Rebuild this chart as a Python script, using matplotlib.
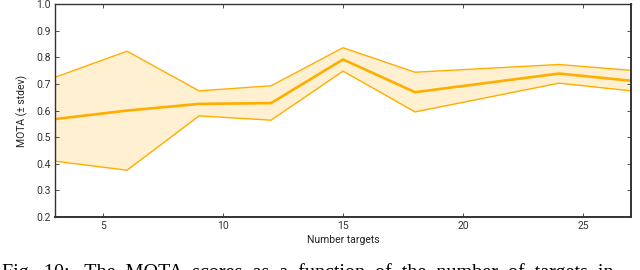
import matplotlib
matplotlib.use("Agg")
import matplotlib.pyplot as plt

# data
n_targets = [3, 6, 9, 12, 15, 18, 24, 27]
mota_mean = [0.568, 0.600, 0.625, 0.628, 0.792, 0.669, 0.739, 0.712]
mota_upper = [0.725, 0.823, 0.674, 0.693, 0.836, 0.744, 0.773, 0.751]
mota_lower = [0.410, 0.376, 0.580, 0.564, 0.748, 0.595, 0.703, 0.674]
x_ticks = [5, 10, 15, 20, 25]
y_ticks = [0.2, 0.3, 0.4, 0.5, 0.6, 0.7, 0.8, 0.9, 1.0]
caption = "Fig. 10:  The MOTA scores as a function of the number of targets in"

line_col = "#FFAE00"
fill_col = "#FFF0D2"

plt.rcParams["font.family"] = ["Roboto", "DejaVu Sans"]

fig = plt.figure(figsize=(6.4, 2.7), dpi=100)
ax = fig.add_axes([0.086, 0.196, 0.9, 0.789])

ax.fill_between(n_targets, mota_lower, mota_upper, color=fill_col, lw=0)
ax.plot(n_targets, mota_upper, color=line_col, lw=1)
ax.plot(n_targets, mota_lower, color=line_col, lw=1)
ax.plot(n_targets, mota_mean, color=line_col, lw=1.9)

ax.set_xlim(3, 27)
ax.set_ylim(0.2, 1.0)
ax.set_xticks(x_ticks)
ax.set_yticks(y_ticks)
ax.set_yticklabels(["%.1f" % v for v in y_ticks])
ax.tick_params(direction="in", length=3, width=0.6, labelsize=7.5,
               colors="#333333", top=True, right=True, pad=3)
for s in ax.spines.values():
    s.set_color("#333333")
    s.set_linewidth(1.0)
ax.spines["right"].set_linewidth(1.4)
ax.spines["bottom"].set_linewidth(1.4)

ax.set_xlabel("Number targets", fontsize=7.5, color="#222222", labelpad=3)
ax.set_ylabel("MOTA (\u00b1 stdev)", fontsize=7.5, color="#222222", labelpad=6)

# caption, only its upper part shows above the bottom edge (justified look)
fig.text(0.003, -0.03, caption.replace(" ", "  ").replace("    ", "   "),
         family="Liberation Serif", fontsize=14.5, ha="left", va="baseline")

fig.savefig("out.png", dpi=100)
